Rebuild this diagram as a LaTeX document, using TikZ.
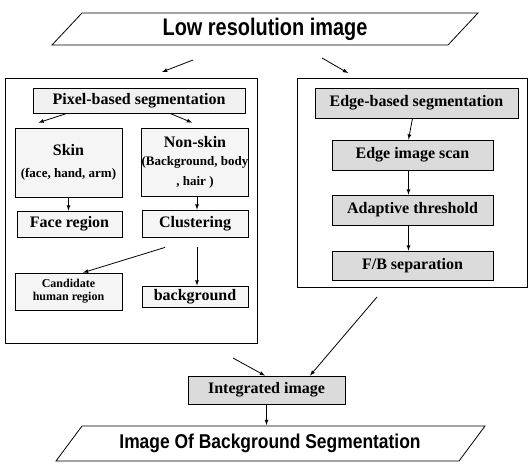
\documentclass[tikz,border=0pt]{standalone}
\usepackage{fontspec}
\setmainfont{Liberation Serif}
\newfontfamily\headfont{Liberation Sans}

\begin{document}
\begin{tikzpicture}[> = latex, x = 1pt, y = -1pt, line width = 0.8pt,
	box/.style = {draw, fill = gray!8, inner sep = 0pt, align = center,
		font = \bfseries\fontsize{16}{18}\selectfont},
	shadedbox/.style = {box, fill = gray!28},
	panel/.style = {draw, line width = 1pt, inner sep = 0pt},
	headtext/.style = {font = \headfont\bfseries\fontsize{24}{26}\selectfont, xscale = 0.83}]

	\useasboundingbox (0, 0) rectangle (532, 467);

	% Input and output parallelograms

	\draw (82, 13) -- (478, 13) -- (448, 45) -- (52, 45) -- cycle;
	\node [headtext] (lowres) at (265, 29) {Low resolution image};

	\draw (82, 426) -- (485, 426) -- (459, 461) -- (56, 461) -- cycle;
	\node [headtext, font = \headfont\bfseries\fontsize{20}{22}\selectfont, xscale = 1.05] (result) at (270, 443) {Image Of Background Segmentation};
	\coordinate (resulttop) at (266.5, 425);

	% Panels

	\node [panel, minimum width = 252, minimum height = 265] (leftpanel) at (131, 210.5) {};
	\node [panel, minimum width = 230, minimum height = 209] (rightpanel) at (412, 182.5) {};

	% Pixel-based branch

	\node [box, fill = gray!12, minimum width = 212, minimum height = 25] (pixel) at (139, 100.5) {Pixel-based segmentation};
	\node [box, minimum width = 107, minimum height = 69, font = \bfseries\fontsize{13}{15}\selectfont] (skin) at (68.5, 162.5)
		{{\fontsize{16}{18}\selectfont Skin}\\[7pt](face, hand, arm)};
	\node [box, minimum width = 106, minimum height = 68, font = \bfseries\fontsize{13}{15}\selectfont] (nonskin) at (195, 162)
		{{\fontsize{16}{18}\selectfont Non-skin}\\[3pt](Background, body\\[5pt], hair )};
	\node [box, minimum width = 105, minimum height = 26] (face) at (69.5, 224) {Face region};
	\node [box, minimum width = 106, minimum height = 27] (clust) at (195, 223.5) {Clustering};
	\node [box, minimum width = 107, minimum height = 37, font = \bfseries\fontsize{12}{13}\selectfont] (cand) at (68.5, 291.5) {Candidate\\human region};
	\node [box, minimum width = 106, minimum height = 21] (bg) at (195, 296.5) {background};

	% Edge-based branch

	\node [shadedbox, minimum width = 203, minimum height = 30] (edgeseg) at (416.5, 103) {Edge-based segmentation};
	\node [shadedbox, minimum width = 161, minimum height = 30] (edgescan) at (412.5, 155) {Edge image scan};
	\node [shadedbox, minimum width = 161, minimum height = 30] (adapt) at (412.5, 210) {Adaptive threshold};
	\node [shadedbox, minimum width = 161, minimum height = 29] (fbsep) at (412.5, 265.5) {F/B separation};

	\node [shadedbox, minimum width = 157, minimum height = 28] (integ) at (266.5, 390) {Integrated image};

	% Connectors

	\coordinate (splitl) at (193, 60);
	\coordinate (splitlend) at (162, 72);
	\coordinate (splitr) at (322, 58);
	\coordinate (splitrend) at (348, 73);
	\coordinate (fromleft) at (233, 358);
	\coordinate (fromright) at (377, 297);

	\draw [->] (splitl) -- (splitlend);
	\draw [->] (splitr) -- (splitrend);

	\draw [->] ([xshift = -72pt]pixel.south) -- ([xshift = -30pt, yshift = 5pt]skin.north);
	\draw [->] ([xshift = 31pt]pixel.south) -- ([xshift = -3pt, yshift = 5pt]nonskin.north);
	\draw [->] (skin.south) -- (skin.south |- face.north);
	\draw [->] ([xshift = 2pt]nonskin.south) -- ([xshift = 2pt]clust.north);
	\draw [->] ([xshift = -30pt, yshift = -10pt]clust.south) -- ([xshift = 14.5pt]cand.north);
	\draw [->] ([xshift = 2pt, yshift = -10pt]clust.south) -- ([xshift = 2pt]bg.north);

	\foreach \a/\b in {edgeseg/edgescan, edgescan/adapt, adapt/fbsep}
		\draw [->] ([xshift = -4pt]\a.south) -- ([xshift = -4pt]\b.north);

	\draw [->] (fromleft) -- ([xshift = -1.5pt]integ.north);
	\draw [->] (fromright) -- ([xshift = 43.5pt]integ.north);
	\draw [->] (integ.south) -- (resulttop);

\end{tikzpicture}
\end{document}
